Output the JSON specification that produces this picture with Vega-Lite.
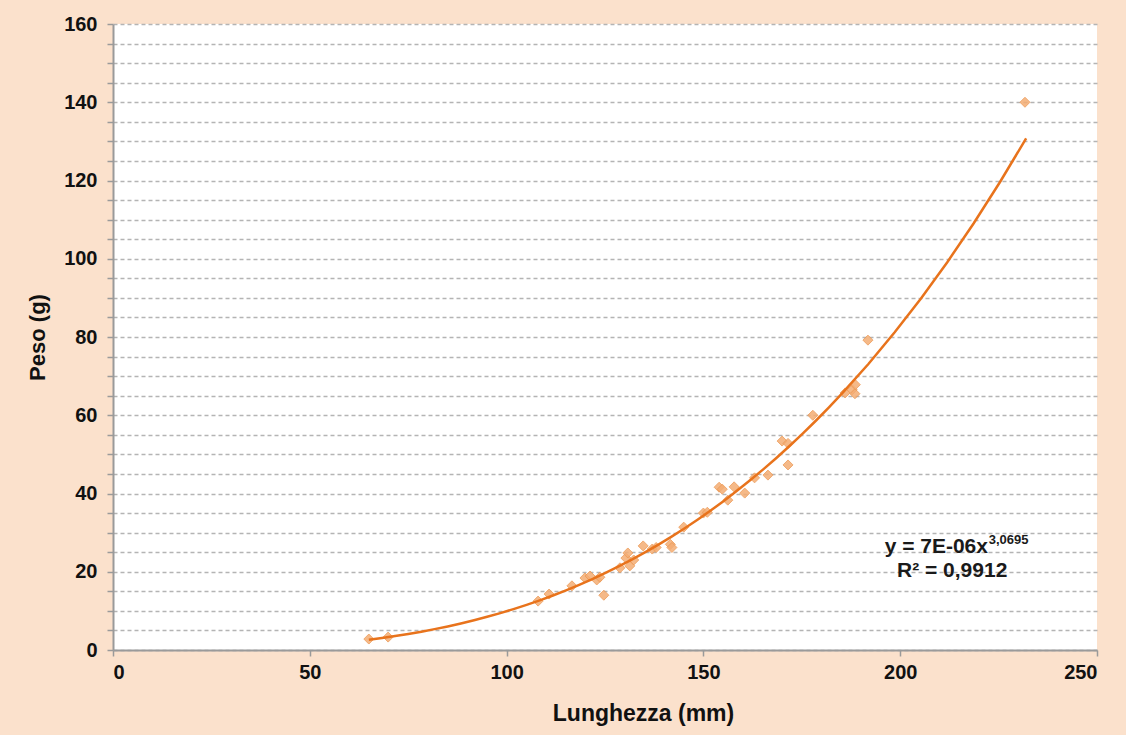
{
  "$schema": "https://vega.github.io/schema/vega-lite/v6.json",
  "width": 984,
  "height": 626,
  "autosize": {"type": "none"},
  "padding": {"left": 113, "top": 24, "right": 29, "bottom": 85},
  "background": "#fbe1cc",
  "config": {
    "view": {"stroke": null, "fill": "#ffffff"},
    "font": "Liberation Sans",
    "axis": {
      "labelFont": "Liberation Sans",
      "labelFontWeight": "bold",
      "labelFontSize": 20,
      "labelColor": "#111111",
      "titleFont": "Liberation Sans",
      "titleFontWeight": "bold",
      "titleFontSize": 22,
      "titleColor": "#111111",
      "domainColor": "#9a9a9a",
      "domainWidth": 2,
      "tickColor": "#9a9a9a",
      "tickWidth": 1.5,
      "tickSize": 6
    },
    "axisX": {"grid": false, "labelPadding": 6, "titlePadding": 20, "titleFontSize": 23, "titleX": 530},
    "axisY": {
      "grid": true, "gridColor": "#b4b4b4", "gridDash": [4, 3], "gridWidth": 1.3,
      "labelPadding": 10, "titlePadding": 14
    }
  },
  "data": {
    "values": [
      {"L": 65.0, "P": 2.8},
      {"L": 69.9, "P": 3.3},
      {"L": 108.0, "P": 12.5},
      {"L": 110.8, "P": 14.3},
      {"L": 116.6, "P": 16.4},
      {"L": 119.9, "P": 18.4},
      {"L": 121.2, "P": 18.9},
      {"L": 122.9, "P": 17.9},
      {"L": 123.7, "P": 18.6},
      {"L": 124.7, "P": 14.0},
      {"L": 128.8, "P": 21.0},
      {"L": 130.3, "P": 23.5},
      {"L": 130.8, "P": 24.8},
      {"L": 131.3, "P": 21.5},
      {"L": 132.3, "P": 23.0},
      {"L": 134.7, "P": 26.6},
      {"L": 137.0, "P": 25.8},
      {"L": 138.0, "P": 26.2},
      {"L": 141.6, "P": 27.0},
      {"L": 142.0, "P": 26.2},
      {"L": 145.0, "P": 31.4},
      {"L": 150.0, "P": 35.0},
      {"L": 151.0, "P": 35.2},
      {"L": 154.0, "P": 41.6},
      {"L": 154.8, "P": 41.1},
      {"L": 156.2, "P": 38.3},
      {"L": 157.8, "P": 41.7},
      {"L": 160.5, "P": 40.1},
      {"L": 163.0, "P": 44.0},
      {"L": 166.4, "P": 44.7},
      {"L": 170.0, "P": 53.4},
      {"L": 171.5, "P": 52.8},
      {"L": 171.5, "P": 47.3},
      {"L": 177.8, "P": 60.0},
      {"L": 186.0, "P": 65.7},
      {"L": 187.8, "P": 66.5},
      {"L": 188.5, "P": 65.5},
      {"L": 188.6, "P": 67.8},
      {"L": 191.8, "P": 79.2},
      {"L": 231.7, "P": 140.0}
    ]
  },
  "layer": [
    {
      "mark": {"type": "point", "shape": "diamond", "filled": true, "size": 100, "color": "#f4ad74", "opacity": 0.85, "stroke": "#ee9a55", "strokeWidth": 1},
      "encoding": {
        "x": {
          "field": "L", "type": "quantitative",
          "scale": {"domain": [0, 250], "nice": false},
          "axis": {"values": [0, 50, 100, 150, 200, 250], "tickCount": 20, "title": "Lunghezza (mm)"}
        },
        "y": {
          "field": "P", "type": "quantitative",
          "scale": {"domain": [0, 160], "nice": false},
          "axis": {
            "values": [0,5,10,15,20,25,30,35,40,45,50,55,60,65,70,75,80,85,90,95,100,105,110,115,120,125,130,135,140,145,150,155,160],
            "tickCount": 40,
            "labelExpr": "datum.value % 20 == 0 ? datum.label : ''",
            "labelOverlap": false,
            "title": "Peso (g)"
          }
        }
      }
    },
    {
      "transform": [{"regression": "P", "on": "L", "method": "pow", "extent": [65, 232]}],
      "mark": {"type": "line", "color": "#e8731c", "strokeWidth": 2.5},
      "encoding": {
        "x": {"field": "L", "type": "quantitative"},
        "y": {"field": "P", "type": "quantitative"}
      }
    },
    {
      "data": {"values": [{"t": "y = 7E-06x"}]},
      "mark": {"type": "text", "align": "right", "baseline": "alphabetic", "font": "Liberation Sans", "fontWeight": "bold", "fontSize": 21, "color": "#1a1a1a"},
      "encoding": {"text": {"field": "t"}, "x": {"datum": 222.3, "type": "quantitative"}, "y": {"datum": 24.8, "type": "quantitative"}}
    },
    {
      "data": {"values": [{"t": "3,0695"}]},
      "mark": {"type": "text", "align": "left", "baseline": "alphabetic", "font": "Liberation Sans", "fontWeight": "bold", "fontSize": 13, "color": "#1a1a1a"},
      "encoding": {"text": {"field": "t"}, "x": {"datum": 222.5, "type": "quantitative"}, "y": {"datum": 27.0, "type": "quantitative"}}
    },
    {
      "data": {"values": [{"t": "R² = 0,9912"}]},
      "mark": {"type": "text", "align": "center", "baseline": "alphabetic", "font": "Liberation Sans", "fontWeight": "bold", "fontSize": 21, "color": "#1a1a1a"},
      "encoding": {"text": {"field": "t"}, "x": {"datum": 213.2, "type": "quantitative"}, "y": {"datum": 18.6, "type": "quantitative"}}
    }
  ]
}
